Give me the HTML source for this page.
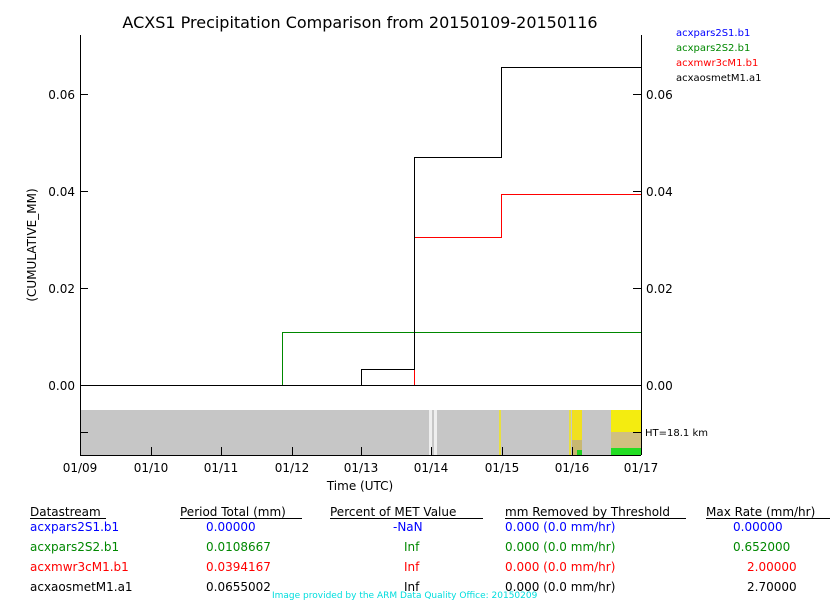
<!DOCTYPE html>
<html><head><style>
body{margin:0;background:#fff;width:840px;height:600px;overflow:hidden;font-family:"DejaVu Sans","Liberation Sans",sans-serif}
svg text{font-family:"DejaVu Sans","Liberation Sans",sans-serif}
</style></head><body>
<svg width="840" height="600" xmlns="http://www.w3.org/2000/svg">
<text x="360" y="28" font-size="16" text-anchor="middle">ACXS1 Precipitation Comparison from 20150109-20150116</text>
<g font-size="10">
<text x="676" y="36" fill="#0000ff">acxpars2S1.b1</text>
<text x="676" y="51" fill="#008800">acxpars2S2.b1</text>
<text x="676" y="66" fill="#ff0000">acxmwr3cM1.b1</text>
<text x="676" y="81" fill="#000">acxaosmetM1.a1</text>
</g>
<!-- band -->
<rect x="80" y="410" width="561" height="45" fill="#c6c6c6"/>
<rect x="429" y="410" width="3" height="45" fill="#eeeeee"/>
<rect x="434" y="410" width="3" height="45" fill="#eeeeee"/>
<rect x="499" y="410" width="2" height="45" fill="#e8e040"/>
<rect x="569" y="410" width="2" height="45" fill="#e8e040"/>
<rect x="572" y="410" width="10" height="45" fill="#f0e020"/>
<rect x="572" y="440" width="10" height="15" fill="#c8b870"/>
<rect x="577" y="450" width="5" height="5" fill="#20d020"/>
<rect x="611" y="410" width="30" height="45" fill="#f4ec10"/>
<rect x="611" y="432" width="30" height="16" fill="#d0c080"/>
<rect x="611" y="448" width="30" height="7" fill="#22dd22"/>
<!-- axes -->
<g stroke="#000" stroke-width="1" fill="none">
<line x1="80.5" y1="35" x2="80.5" y2="455"/>
<line x1="641.5" y1="35" x2="641.5" y2="455"/>
<line x1="80" y1="455.5" x2="641" y2="455.5"/>
<line x1="80" y1="385.5" x2="641" y2="385.5"/>
<path d="M80 94.5h8M80 191.5h8M80 288.5h8M80 385.5h8M80 432.5h8"/>
<path d="M641 94.5h-8M641 191.5h-8M641 288.5h-8M641 385.5h-8M641 432.5h-8"/>
<path d="M151.5 455v-8M221.5 455v-8M292.5 455v-8M361.5 455v-8M431.5 455v-8M502.5 455v-8M572.5 455v-8"/>
</g>
<g font-size="12" text-anchor="end">
<text x="75" y="99">0.06</text><text x="75" y="196">0.04</text><text x="75" y="293">0.02</text><text x="75" y="390">0.00</text>
</g>
<g font-size="12">
<text x="646" y="99">0.06</text><text x="646" y="196">0.04</text><text x="646" y="293">0.02</text><text x="646" y="390">0.00</text>
<text x="645" y="436" font-size="10">HT=18.1 km</text>
</g>
<g font-size="12" text-anchor="middle">
<text x="80" y="472">01/09</text><text x="151" y="472">01/10</text><text x="221" y="472">01/11</text><text x="292" y="472">01/12</text><text x="361" y="472">01/13</text><text x="431" y="472">01/14</text><text x="502" y="472">01/15</text><text x="572" y="472">01/16</text><text x="641" y="472">01/17</text>
<text x="360" y="490">Time (UTC)</text>
</g>
<text transform="translate(36,245) rotate(-90)" font-size="12" text-anchor="middle">(CUMULATIVE_MM)</text>
<!-- series -->
<g fill="none" stroke-width="1">
<path d="M282.5 385V332.5H641" stroke="#008800"/>
<path d="M414.5 385V237.5H501.5V194.5H641" stroke="#ff0000"/>
<path d="M80 385.5H361.5V369.5H414.5V157.5H501.5V67.5H641" stroke="#000"/>
</g>
<!-- table -->
<g font-size="12">
<text x="30" y="516">Datastream</text><line x1="30" y1="518.5" x2="106" y2="518.5" stroke="#000"/>
<text x="180" y="516">Period Total (mm)</text><line x1="180" y1="518.5" x2="302" y2="518.5" stroke="#000"/>
<text x="330" y="516">Percent of MET Value</text><line x1="330" y1="518.5" x2="483" y2="518.5" stroke="#000"/>
<text x="505" y="516">mm Removed by Threshold</text><line x1="505" y1="518.5" x2="686" y2="518.5" stroke="#000"/>
<text x="706" y="516">Max Rate (mm/hr)</text><line x1="706" y1="518.5" x2="830" y2="518.5" stroke="#000"/>
<g fill="#0000ff"><text x="30" y="531">acxpars2S1.b1</text><text x="206" y="531">0.00000</text><text x="393" y="531">-NaN</text><text x="505" y="531">0.000 (0.0 mm/hr)</text><text x="733" y="531">0.00000</text></g>
<g fill="#008800"><text x="30" y="551">acxpars2S2.b1</text><text x="206" y="551">0.0108667</text><text x="404" y="551">Inf</text><text x="505" y="551">0.000 (0.0 mm/hr)</text><text x="733" y="551">0.652000</text></g>
<g fill="#ff0000"><text x="30" y="571">acxmwr3cM1.b1</text><text x="206" y="571">0.0394167</text><text x="404" y="571">Inf</text><text x="505" y="571">0.000 (0.0 mm/hr)</text><text x="747" y="571">2.00000</text></g>
<g fill="#000"><text x="30" y="591">acxaosmetM1.a1</text><text x="206" y="591">0.0655002</text><text x="404" y="591">Inf</text><text x="505" y="591">0.000 (0.0 mm/hr)</text><text x="747" y="591">2.70000</text></g>
<text x="272" y="598" font-size="9" fill="#00dddd">Image provided by the ARM Data Quality Office: 20150209</text>
</g>
</svg>
</body></html>
